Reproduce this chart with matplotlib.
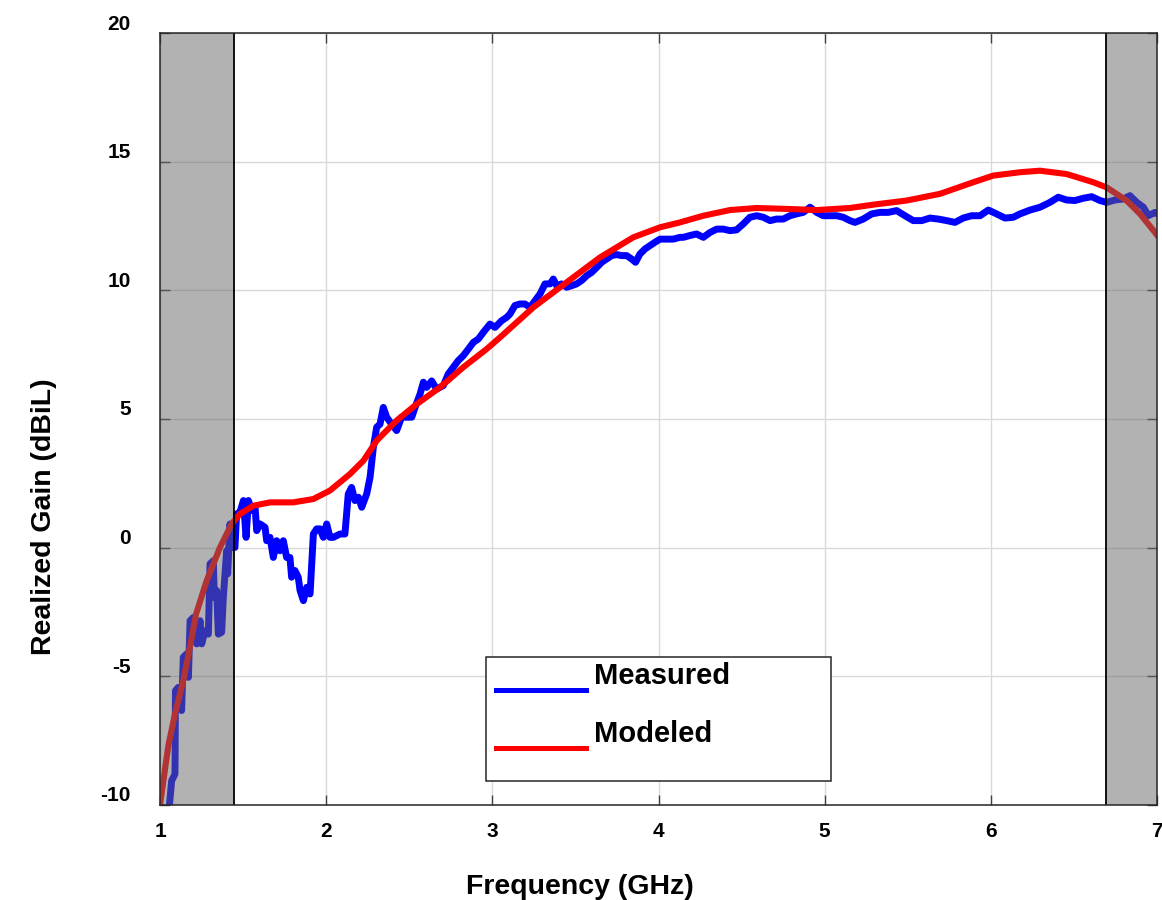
import matplotlib
matplotlib.use('Agg')
import matplotlib.pyplot as plt
import matplotlib.transforms as mtransforms
from matplotlib.lines import Line2D
from matplotlib.patches import Rectangle

plt.rcParams['font.family'] = ['Liberation Sans', 'DejaVu Sans']
plt.rcParams['font.weight'] = 'bold'

# Measured realized gain
meas_f = [1.050, 1.070, 1.090, 1.091, 1.093, 1.110, 1.130, 1.140, 1.160, 1.171, 1.181, 1.201,
          1.221, 1.241, 1.251, 1.271, 1.291, 1.301, 1.321, 1.327, 1.341, 1.351, 1.371, 1.381,
          1.401, 1.407, 1.421, 1.437, 1.451, 1.461, 1.481, 1.502, 1.518, 1.532, 1.552, 1.572,
          1.582, 1.602, 1.632, 1.642, 1.662, 1.682, 1.702, 1.722, 1.742, 1.762, 1.782, 1.792,
          1.812, 1.832, 1.843, 1.863, 1.883, 1.903, 1.923, 1.943, 1.963, 1.983, 2.003, 2.023,
          2.043, 2.083, 2.113, 2.133, 2.153, 2.173, 2.194, 2.214, 2.244, 2.264, 2.284, 2.304,
          2.324, 2.344, 2.364, 2.394, 2.424, 2.454, 2.484, 2.515, 2.535, 2.565, 2.585, 2.605,
          2.635, 2.665, 2.705, 2.735, 2.765, 2.795, 2.825, 2.856, 2.886, 2.916, 2.946, 2.986,
          3.016, 3.056, 3.086, 3.106, 3.136, 3.166, 3.196, 3.227, 3.257, 3.287, 3.317, 3.347,
          3.367, 3.387, 3.417, 3.447, 3.477, 3.507, 3.537, 3.568, 3.598, 3.628, 3.658, 3.688,
          3.718, 3.748, 3.778, 3.808, 3.838, 3.862, 3.888, 3.919, 3.949, 3.979, 4.009, 4.049,
          4.089, 4.129, 4.149, 4.189, 4.229, 4.270, 4.310, 4.350, 4.390, 4.430, 4.470, 4.510,
          4.550, 4.591, 4.631, 4.671, 4.711, 4.751, 4.791, 4.831, 4.871, 4.912, 4.952, 4.992,
          5.032, 5.072, 5.112, 5.152, 5.182, 5.232, 5.283, 5.333, 5.383, 5.433, 5.483, 5.533,
          5.584, 5.634, 5.684, 5.734, 5.784, 5.834, 5.884, 5.935, 5.985, 6.035, 6.085, 6.135,
          6.175, 6.236, 6.296, 6.356, 6.406, 6.456, 6.506, 6.557, 6.607, 6.657, 6.697, 6.747,
          6.797, 6.837, 6.878, 6.918, 6.948, 6.988, 7.000]
meas_g = [-10.5, -9.06, -8.80, -8.02, -5.56, -5.43, -6.33, -4.26, -4.13, -5.04, -2.84, -2.71,
          -3.74, -2.84, -3.74, -3.23, -3.36, -0.63, -0.51, -1.93, -1.67, -3.36, -3.29, -1.93,
          -0.12, -1.02, 0.92, 0.01, 0.01, 1.31, 1.37, 1.83, 0.40, 1.83, 1.44, 1.57,
          0.66, 0.92, 0.79, 0.27, 0.40, -0.38, 0.27, -0.12, 0.27, -0.38, -0.38, -1.15,
          -0.89, -1.15, -1.67, -2.06, -1.54, -1.80, 0.53, 0.73, 0.73, 0.40, 0.92, 0.40,
          0.40, 0.53, 0.53, 2.09, 2.34, 1.83, 1.96, 1.57, 2.09, 2.73, 3.90, 4.68,
          4.80, 5.45, 5.07, 4.80, 4.55, 5.07, 5.07, 5.07, 5.45, 5.97, 6.43, 6.23,
          6.48, 6.16, 6.30, 6.75, 7.01, 7.27, 7.46, 7.72, 7.98, 8.11, 8.37, 8.69,
          8.56, 8.82, 8.95, 9.08, 9.41, 9.47, 9.47, 9.34, 9.60, 9.86, 10.25, 10.25,
          10.44, 10.18, 10.25, 10.12, 10.18, 10.25, 10.38, 10.57, 10.70, 10.89, 11.09, 11.22,
          11.35, 11.39, 11.35, 11.35, 11.22, 11.09, 11.41, 11.61, 11.74, 11.87, 11.99, 11.99,
          11.99, 12.06, 12.06, 12.13, 12.19, 12.06, 12.25, 12.38, 12.38, 12.32, 12.35, 12.58,
          12.84, 12.90, 12.84, 12.71, 12.77, 12.77, 12.90, 12.97, 13.03, 13.23, 13.03, 12.90,
          12.90, 12.90, 12.84, 12.71, 12.64, 12.77, 12.97, 13.03, 13.03, 13.10, 12.90, 12.71,
          12.71, 12.81, 12.77, 12.71, 12.64, 12.81, 12.90, 12.90, 13.12, 12.97, 12.81, 12.84,
          12.97, 13.12, 13.23, 13.42, 13.62, 13.51, 13.49, 13.58, 13.64, 13.49, 13.42, 13.51,
          13.55, 13.68, 13.42, 13.23, 12.90, 13.03, 12.98]

# Modeled realized gain
model_f = [1.000, 1.050, 1.090, 1.140, 1.180, 1.217, 1.281, 1.361, 1.431, 1.481, 1.562, 1.662,
           1.802, 1.923, 2.023, 2.143, 2.224, 2.304, 2.424, 2.545, 2.685, 2.825, 2.966, 3.046,
           3.247, 3.447, 3.648, 3.848, 4.009, 4.129, 4.270, 4.430, 4.591, 4.791, 4.952, 5.152,
           5.293, 5.493, 5.694, 5.894, 6.015, 6.175, 6.296, 6.456, 6.617, 6.697, 6.817, 6.898,
           6.988, 7.000]
model_g = [-10.0, -7.70, -6.46, -5.17, -3.87, -2.58, -1.28, 0.01, 0.92, 1.31, 1.63, 1.76,
           1.76, 1.89, 2.22, 2.86, 3.38, 4.16, 4.94, 5.58, 6.23, 7.01, 7.72, 8.17,
           9.34, 10.31, 11.28, 12.06, 12.45, 12.64, 12.90, 13.12, 13.20, 13.16, 13.12, 13.20,
           13.33, 13.49, 13.75, 14.20, 14.46, 14.59, 14.65, 14.52, 14.20, 14.00, 13.49, 12.97,
           12.25, 12.15]

band_low = (1.0, 1.445)
band_high = (6.692, 7.0)
xticks = [1, 2, 3, 4, 5, 6, 7]
yticks = [-10, -5, 0, 5, 10, 15, 20]

fig = plt.figure(figsize=(11.62, 9), dpi=100)
ax = fig.add_axes([0.1377, 0.1056, 0.858, 0.8577])

ax.plot(meas_f, meas_g, color=(0, 0, 1), lw=5.0, solid_joinstyle='round',
        solid_capstyle='round', zorder=3)
ax.plot(model_f, model_g, color=(1, 0, 0), lw=4.4, solid_joinstyle='round', zorder=4)

for lo, hi in (band_low, band_high):
    ax.axvspan(lo, hi, facecolor=(0.4, 0.4, 0.4), alpha=0.5, edgecolor='none', zorder=5)
ax.axvline(band_low[1], color='black', lw=1.3, zorder=6)
ax.axvline(band_high[0], color='black', lw=1.3, zorder=6)

ax.set_xlim(1, 7)
ax.set_ylim(-10, 20)
ax.set_xticks(xticks)
ax.set_yticks(yticks)
ax.set_xticklabels([str(v) for v in xticks])
ax.set_yticklabels([str(v) for v in yticks])
ax.grid(True, color=(0.85, 0.85, 0.85), lw=1.0, zorder=0)
ax.set_axisbelow(True)
ax.tick_params(axis='both', which='both', direction='in', length=7, width=1.0,
               top=True, right=True, color=(0.25, 0.25, 0.25), labelsize=15)
ax.tick_params(axis='x', pad=12)
ax.tick_params(axis='y', pad=21)
for sp in ax.spines.values():
    sp.set_color((0.15, 0.15, 0.15))
    sp.set_linewidth(1.1)
    sp.set_zorder(7)

offset = mtransforms.ScaledTranslation(0, 11 / 100, fig.dpi_scale_trans)
for lab in ax.get_yticklabels():
    lab.set_transform(lab.get_transform() + offset)
    lab.set_fontweight('bold')
for lab in ax.get_xticklabels():
    lab.set_fontweight('bold')

ax.set_xlabel('Frequency (GHz)', fontsize=20.5, fontweight='bold')
ax.xaxis.set_label_coords(0.421, -0.089)
ax.set_ylabel('Realized Gain (dBiL)', fontsize=20.5, fontweight='bold')
ax.yaxis.set_label_coords(-0.103, 0.374)

# legend drawn by hand to keep text sitting above the sample lines
ax.add_patch(Rectangle((0.327, 0.031), 0.346, 0.161, transform=ax.transAxes,
                       facecolor='white', edgecolor=(0.15, 0.15, 0.15), lw=1.1, zorder=8))
ax.add_line(Line2D([0.337, 0.427], [0.149, 0.149], transform=ax.transAxes,
                   color=(0, 0, 1), lw=3.6, zorder=9))
ax.add_line(Line2D([0.337, 0.427], [0.074, 0.074], transform=ax.transAxes,
                   color=(1, 0, 0), lw=3.6, zorder=9))
ax.text(0.435, 0.167, 'Measured', transform=ax.transAxes, fontsize=21, fontweight='bold',
        va='center', ha='left', zorder=9)
ax.text(0.435, 0.092, 'Modeled', transform=ax.transAxes, fontsize=21, fontweight='bold',
        va='center', ha='left', zorder=9)

fig.savefig('out.png', dpi=100)
